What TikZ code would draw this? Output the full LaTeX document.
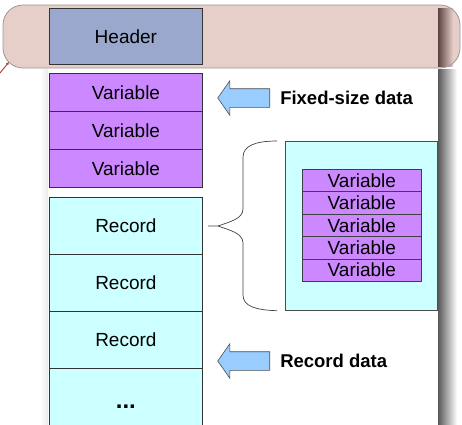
\documentclass[tikz,border=0pt]{standalone}
\usepackage{fontspec}
\setmainfont{Liberation Sans}
\usetikzlibrary{shapes.arrows,positioning,arrows.meta}
\definecolor{pillpink}{RGB}{230,207,201}
\definecolor{hdrblue}{RGB}{153,168,204}
\definecolor{varpurple}{RGB}{204,136,255}
\definecolor{reccyan}{RGB}{204,255,255}
\definecolor{arrowblue}{RGB}{153,204,255}
\definecolor{shadowbrown}{RGB}{92,68,66}
\definecolor{pointred}{RGB}{160,64,48}
\newcommand{\cellfont}{\fontsize{19}{22}\selectfont}
\newcommand{\tagfont}{\fontsize{18.5}{22}\selectfont\bfseries}

\begin{document}
\begin{tikzpicture}[x=1pt,y=-1pt,
		cell/.style={draw=black!80,line width=0.8pt,anchor=north west,inner sep=0pt,minimum width=153pt,font=\cellfont},
		subcell/.style={draw=black!75,line width=0.7pt,anchor=north west,inner sep=0pt,minimum width=119pt,minimum height=22.4pt,fill=varpurple,font=\cellfont},
		blockarrow/.style={single arrow,shape border rotate=180,draw=black!70,fill=arrowblue,line width=0.6pt,minimum height=52pt,inner sep=9pt,single arrow head extend=8pt,single arrow tip angle=110},
		tag/.style={anchor=west,inner sep=0pt,font=\tagfont}]
		\useasboundingbox (0,0) rectangle (462,424);
		% page shadows
		\shade[left color=black!65,right color=white] (438,69) rectangle (457,424);
		\shade[left color=white,right color=black!8] (40,69) rectangle (48,424);
		% selected header band
		\fill[pillpink,rounded corners=20pt] (3,5) rectangle (460,68);
		\shade[left color=shadowbrown,right color=pillpink] (438,8) rectangle (453,66);
		\draw[black!40,line width=0.8pt,rounded corners=20pt] (3,5) rectangle (460,68);
		\coordinate (ptrtail) at (0,73);
		\coordinate (ptrhead) at (9,62);
		\draw[pointred,line width=0.9pt,-{Latex[length=3pt,width=3pt]}] (ptrtail) -- (ptrhead);
		% left column
		\node[cell,fill=hdrblue,minimum height=56pt] (header) at (49,8) {Header};
		\foreach \i in {1,2,3}
			\node[cell,fill=varpurple,minimum height=38pt] (var\i) at (49,{73+38*(\i-1)}) {Variable};
		\foreach \i in {1,2,3}
			\node[cell,fill=reccyan,minimum height=57pt] (rec\i) at (49,{197+57*(\i-1)}) {Record};
		\node[cell,fill=reccyan,minimum height=57pt,font=\fontsize{24}{26}\selectfont\bfseries,text height=24pt,text depth=0pt] (recmore) at (49,368) {...};
		% one record in detail
		\node[draw=black!70,fill=reccyan,line width=0.7pt,anchor=north west,inner sep=0pt,minimum width=152pt,minimum height=169pt] (detail) at (285,141) {};
		\foreach \i in {1,...,5}
			\node[subcell] (sub\i) at (302,{169+22.4*(\i-1)}) {Variable};
		\coordinate (bracetip) at (208,226);
		\draw[black!75,line width=0.7pt] ([xshift=-8pt]detail.north west) .. controls (255,141) and (243,146) .. (243,157) -- (243,209)
			.. controls (243,219) and (229,222) .. (218,226) -- (bracetip);
		\draw[black!75,line width=0.7pt] (218,226) .. controls (229,230) and (243,233) .. (243,243) -- (243,295)
			.. controls (243,306) and (255,310) .. ([xshift=-8pt]detail.south west);
		% labels
		\node[blockarrow] (fixarrow) at (247,98) {};
		\node[tag,right=10pt of fixarrow.tail] (fixlabel) {Fixed-size data};
		\node[blockarrow] (recarrow) at (247,361) {};
		\node[tag,right=10pt of recarrow.tail] (reclabel) {Record data};
	\end{tikzpicture}
\end{document}
